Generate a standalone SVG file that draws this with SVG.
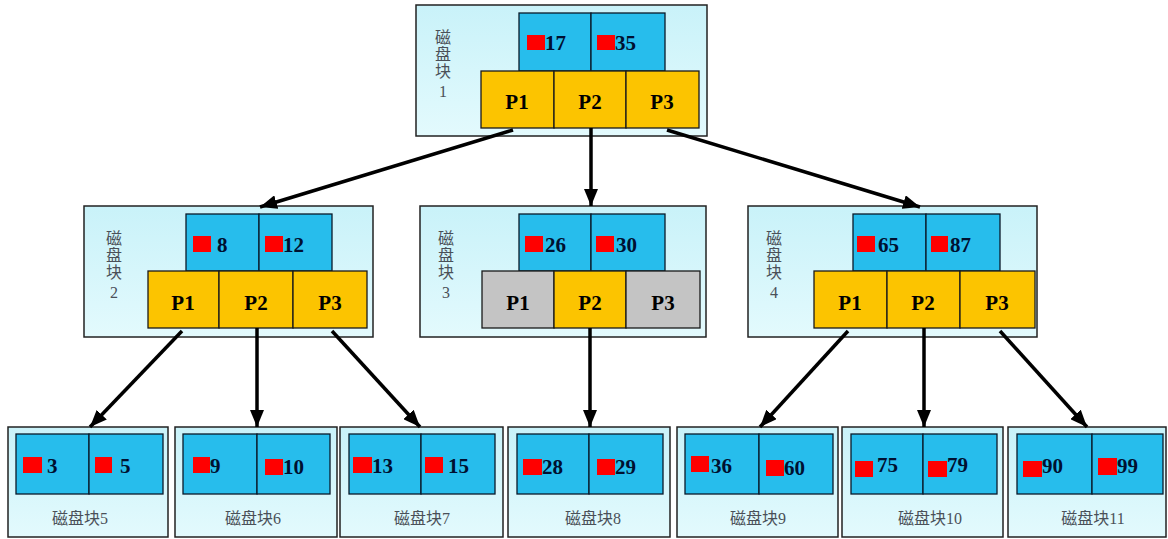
<svg xmlns="http://www.w3.org/2000/svg" width="1168" height="539" viewBox="0 0 1168 539">
<style>
.blk{fill:url(#bg);stroke:#222;stroke-width:1.5}
.key{fill:#27bdec;stroke:#0a1a2a;stroke-width:1.3}
.ptr{fill:#fcc400;stroke:#1a1a1a;stroke-width:1.3}
.gry{fill:#c4c4c4;stroke:#1a1a1a;stroke-width:1.3}
.red{fill:#ff0000}
.num{font-family:"Liberation Serif",serif;font-weight:bold;font-size:21px;fill:#001030}
.pl{font-family:"Liberation Serif",serif;font-weight:bold;font-size:21px;fill:#000;text-anchor:middle}
.lb{font-family:"Liberation Serif","Noto Sans CJK SC",serif;font-size:16px;fill:#4a5058;text-anchor:middle}
.cn{stroke:#000;stroke-width:3.5;fill:none;marker-end:url(#ah)}
</style>
<defs>
<linearGradient id="bg" x1="0" y1="0" x2="0" y2="1">
<stop offset="0" stop-color="#c9f2f9"/>
<stop offset="1" stop-color="#e3fafd"/>
</linearGradient>
<marker id="ah" markerUnits="userSpaceOnUse" markerWidth="17" markerHeight="14" viewBox="0 0 17 14" refX="17" refY="7" orient="auto">
<path d="M0,0 L17,7 L0,14 Z" fill="#000"/>
</marker>
</defs>
<rect width="1168" height="539" fill="#fff"/>

<g id="block1">
<rect class="blk" x="416" y="5" width="291" height="131"/>
<rect class="key" x="519" y="13" width="72" height="58"/>
<rect class="key" x="591" y="13" width="74" height="58"/>
<rect class="red" x="527" y="35" width="18" height="15"/>
<text class="num" x="545" y="50">17</text>
<rect class="red" x="597" y="35" width="18" height="15"/>
<text class="num" x="615" y="50">35</text>
<rect class="ptr" x="481" y="71" width="73" height="57"/>
<rect class="ptr" x="554" y="71" width="72" height="57"/>
<rect class="ptr" x="626" y="71" width="73" height="57"/>
<text class="pl" x="517" y="109">P1</text>
<text class="pl" x="590" y="109">P2</text>
<text class="pl" x="662" y="109">P3</text>
<text class="lb" x="443" y="43">磁</text>
<text class="lb" x="443" y="60">盘</text>
<text class="lb" x="443" y="77">块</text>
<text class="lb" x="443" y="97">1</text>
</g>

<g id="block2">
<rect class="blk" x="84" y="206" width="289" height="131"/>
<rect class="key" x="186" y="214" width="73" height="57"/>
<rect class="key" x="259" y="214" width="73" height="57"/>
<rect class="red" x="193" y="236" width="18" height="16"/>
<text class="num" x="217" y="252">8</text>
<rect class="red" x="265" y="236" width="18" height="16"/>
<text class="num" x="283" y="252">12</text>
<rect class="ptr" x="148" y="271" width="71" height="57"/>
<rect class="ptr" x="219" y="271" width="74" height="57"/>
<rect class="ptr" x="293" y="271" width="74" height="57"/>
<text class="pl" x="183" y="310">P1</text>
<text class="pl" x="256" y="310">P2</text>
<text class="pl" x="330" y="310">P3</text>
<text class="lb" x="114" y="244">磁</text>
<text class="lb" x="114" y="261">盘</text>
<text class="lb" x="114" y="278">块</text>
<text class="lb" x="114" y="298">2</text>
</g>

<g id="block3">
<rect class="blk" x="420" y="206" width="286" height="131"/>
<rect class="key" x="519" y="214" width="72" height="57"/>
<rect class="key" x="591" y="214" width="74" height="57"/>
<rect class="red" x="525" y="236" width="18" height="16"/>
<text class="num" x="545" y="252">26</text>
<rect class="red" x="596" y="236" width="18" height="16"/>
<text class="num" x="616" y="252">30</text>
<rect class="gry" x="482" y="271" width="72" height="57"/>
<rect class="ptr" x="554" y="271" width="72" height="57"/>
<rect class="gry" x="626" y="271" width="74" height="57"/>
<text class="pl" x="518" y="310">P1</text>
<text class="pl" x="590" y="310">P2</text>
<text class="pl" x="663" y="310">P3</text>
<text class="lb" x="446" y="244">磁</text>
<text class="lb" x="446" y="261">盘</text>
<text class="lb" x="446" y="278">块</text>
<text class="lb" x="446" y="298">3</text>
</g>

<g id="block4">
<rect class="blk" x="748" y="206" width="289" height="131"/>
<rect class="key" x="853" y="214" width="73" height="57"/>
<rect class="key" x="926" y="214" width="74" height="57"/>
<rect class="red" x="857" y="236" width="18" height="16"/>
<text class="num" x="878" y="252">65</text>
<rect class="red" x="931" y="236" width="17" height="16"/>
<text class="num" x="950" y="252">87</text>
<rect class="ptr" x="814" y="271" width="73" height="57"/>
<rect class="ptr" x="887" y="271" width="73" height="57"/>
<rect class="ptr" x="960" y="271" width="75" height="57"/>
<text class="pl" x="850" y="310">P1</text>
<text class="pl" x="923" y="310">P2</text>
<text class="pl" x="997" y="310">P3</text>
<text class="lb" x="774" y="244">磁</text>
<text class="lb" x="774" y="261">盘</text>
<text class="lb" x="774" y="278">块</text>
<text class="lb" x="774" y="298">4</text>
</g>

<g id="leaf5">
<rect class="blk" x="8" y="427" width="160" height="110"/>
<rect class="key" x="16" y="434" width="73" height="60"/>
<rect class="key" x="89" y="434" width="74" height="60"/>
<rect class="red" x="23" y="457" width="19" height="16"/>
<text class="num" x="47" y="473">3</text>
<rect class="red" x="95" y="457" width="17" height="16"/>
<text class="num" x="120" y="473">5</text>
<text class="lb" x="80" y="524">磁盘块5</text>
</g>

<g id="leaf6">
<rect class="blk" x="175" y="427" width="162" height="110"/>
<rect class="key" x="183" y="434" width="74" height="60"/>
<rect class="key" x="257" y="434" width="73" height="60"/>
<rect class="red" x="193" y="457" width="17" height="16"/>
<text class="num" x="210" y="473">9</text>
<rect class="red" x="265" y="459" width="18" height="16"/>
<text class="num" x="283" y="474">10</text>
<text class="lb" x="253" y="524">磁盘块6</text>
</g>

<g id="leaf7">
<rect class="blk" x="340" y="427" width="163" height="110"/>
<rect class="key" x="349" y="434" width="72" height="60"/>
<rect class="key" x="421" y="434" width="74" height="60"/>
<rect class="red" x="353" y="457" width="19" height="16"/>
<text class="num" x="372" y="473">13</text>
<rect class="red" x="425" y="457" width="18" height="16"/>
<text class="num" x="448" y="473">15</text>
<text class="lb" x="422" y="524">磁盘块7</text>
</g>

<g id="leaf8">
<rect class="blk" x="508" y="427" width="162" height="110"/>
<rect class="key" x="517" y="434" width="72" height="60"/>
<rect class="key" x="589" y="434" width="74" height="60"/>
<rect class="red" x="523" y="459" width="19" height="16"/>
<text class="num" x="542" y="474">28</text>
<rect class="red" x="597" y="459" width="18" height="16"/>
<text class="num" x="615" y="474">29</text>
<text class="lb" x="593" y="524">磁盘块8</text>
</g>

<g id="leaf9">
<rect class="blk" x="677" y="427" width="161" height="110"/>
<rect class="key" x="685" y="434" width="74" height="60"/>
<rect class="key" x="759" y="434" width="74" height="60"/>
<rect class="red" x="691" y="456" width="18" height="16"/>
<text class="num" x="711" y="473">36</text>
<rect class="red" x="766" y="460" width="18" height="16"/>
<text class="num" x="784" y="475">60</text>
<text class="lb" x="758" y="524">磁盘块9</text>
</g>

<g id="leaf10">
<rect class="blk" x="842" y="427" width="161" height="110"/>
<rect class="key" x="851" y="434" width="72" height="60"/>
<rect class="key" x="923" y="434" width="74" height="60"/>
<rect class="red" x="855" y="461" width="18" height="16"/>
<text class="num" x="877" y="472">75</text>
<rect class="red" x="928" y="461" width="19" height="16"/>
<text class="num" x="947" y="472">79</text>
<text class="lb" x="930" y="524">磁盘块10</text>
</g>

<g id="leaf11">
<rect class="blk" x="1008" y="427" width="158" height="110"/>
<rect class="key" x="1017" y="434" width="75" height="60"/>
<rect class="key" x="1092" y="434" width="71" height="60"/>
<rect class="red" x="1023" y="461" width="19" height="16"/>
<text class="num" x="1042" y="473">90</text>
<rect class="red" x="1098" y="458" width="19" height="17"/>
<text class="num" x="1117" y="473">99</text>
<text class="lb" x="1093" y="524">磁盘块11</text>
</g>

<g id="connectors">
<line class="cn" x1="513" y1="130" x2="260" y2="207"/>
<line class="cn" x1="591" y1="128" x2="591" y2="206"/>
<line class="cn" x1="667" y1="130" x2="920" y2="207"/>
<line class="cn" x1="182" y1="331" x2="90" y2="427"/>
<line class="cn" x1="257" y1="328" x2="257" y2="427"/>
<line class="cn" x1="332" y1="331" x2="420" y2="427"/>
<line class="cn" x1="590" y1="328" x2="590" y2="427"/>
<line class="cn" x1="848" y1="331" x2="760" y2="427"/>
<line class="cn" x1="924" y1="328" x2="924" y2="427"/>
<line class="cn" x1="1000" y1="331" x2="1087" y2="427"/>
</g>
</svg>
